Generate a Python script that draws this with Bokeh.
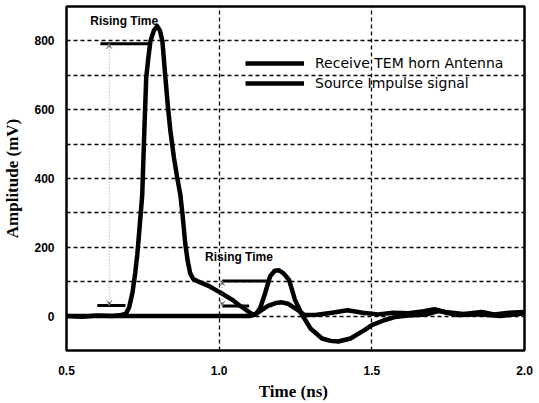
from bokeh.plotting import figure
from bokeh.models import (FixedTicker, Legend, LegendItem, Range1d, Arrow,
                          VeeHead, ColumnDataSource, Label)
from bokeh.embed import file_html
from bokeh.resources import INLINE

# ---------------- data ----------------
src_t = [0.50, 0.55, 0.60, 0.65, 0.68, 0.695, 0.705, 0.716, 0.725, 0.732, 0.740,
         0.748, 0.755, 0.761, 0.768, 0.775, 0.786, 0.797, 0.806, 0.814, 0.824,
         0.832, 0.840, 0.852, 0.863, 0.873, 0.880, 0.889, 0.897, 0.905, 0.915,
         0.930, 0.944, 0.965, 0.987, 1.010, 1.042, 1.065, 1.085, 1.100, 1.114,
         1.135, 1.160, 1.185, 1.206, 1.225, 1.250, 1.280, 1.320, 1.370, 1.420,
         1.470, 1.520, 1.570, 1.620, 1.670, 1.705, 1.740, 1.800, 1.860, 1.900,
         1.950, 2.000]
src_v = [0, -2, 2, 0, 3, 8, 25, 68, 125, 180, 265,
         352, 540, 692, 750, 800, 830, 843, 830, 800, 692,
         610, 540, 460, 400, 352, 295, 210, 160, 125, 108,
         101, 96, 88, 77, 65, 48, 32, 20, 10, 4,
         15, 30, 38, 40, 36, 22, 3, 4, 10, 17,
         10, 5, 10, 8, 14, 20, 12, 6, 12, 5,
         10, 12]

rx_t = [0.50, 0.60, 0.70, 0.80, 0.90, 1.00, 1.10, 1.120, 1.135, 1.150, 1.167,
        1.182, 1.196, 1.210, 1.229, 1.248, 1.270, 1.300, 1.337, 1.365, 1.390,
        1.430, 1.477, 1.500, 1.540, 1.575, 1.620, 1.680, 1.720, 1.780, 1.850,
        1.920, 2.000]
rx_v = [0, 0, 0, 0, 0, 0, 0, 5, 25, 65, 116,
        132, 133, 125, 105, 48, 6, -37, -65, -72, -74,
        -65, -40, -26, -12, -3, 2, 5, 15, 3, 5,
        0, 8]

series_labels = ["Receive TEM horn Antenna", "Source Impulse signal"]

x_ticks = [0.5, 1.0, 1.5, 2.0]
x_tick_labels = ["0.5", "1.0", "1.5", "2.0"]
x_grid = [1.0, 1.5]
y_ticks = [0, 200, 400, 600, 800]
y_grid = [0, 100, 200, 300, 400, 500, 600, 700, 800]

# rising-time markers (level lines and spans)
mark_x0 = [0.611, 0.601, 1.010, 1.010]
mark_x1 = [0.773, 0.693, 1.165, 1.098]
mark_y = [792, 31, 102, 29]
span_x = [0.640, 1.010]
span_y0 = [792, 102]
span_y1 = [31, 29]
note_x = [0.578, 0.954]
note_y = [857, 173]
note_text = ["Rising Time", "Rising Time"]

# ---------------- figure ----------------
p = figure(width=539, height=403, x_range=Range1d(0.5, 2.0),
           y_range=Range1d(-100, 900), output_backend="svg",
           toolbar_location=None, min_border_left=64, min_border_right=15,
           min_border_top=6, min_border_bottom=45)
p.background_fill_color = "white"
p.border_fill_color = "white"
p.outline_line_color = "black"
p.outline_line_width = 2.5

p.xaxis.ticker = FixedTicker(ticks=x_ticks)
p.xaxis.major_label_overrides = {t: s for t, s in zip(x_ticks, x_tick_labels)}
p.yaxis.ticker = FixedTicker(ticks=y_ticks)
p.xgrid.ticker = FixedTicker(ticks=x_grid)
p.ygrid.ticker = FixedTicker(ticks=y_grid)
for g in (p.xgrid, p.ygrid):
    g.grid_line_color = "black"
    g.grid_line_width = 1.3
    g.grid_line_dash = "4 3"
    g.grid_line_alpha = 1.0

for ax in (p.xaxis, p.yaxis):
    ax.axis_line_color = None
    ax.major_tick_line_color = None
    ax.minor_tick_line_color = None
    ax.major_label_text_font = "Liberation Sans"
    ax.major_label_text_font_style = "bold"
    ax.major_label_text_font_size = "12px"
    ax.major_label_text_color = "black"
    ax.axis_label_text_font = "Liberation Serif"
    ax.axis_label_text_font_style = "bold"
    ax.axis_label_text_font_size = "17px"
    ax.axis_label_text_color = "black"

p.xaxis.axis_label = "Time  (ns)"
p.yaxis.axis_label = "Amplitude (mV)"
p.xaxis.major_label_standoff = 9
p.xaxis.axis_label_standoff = 4
p.yaxis.major_label_standoff = 6
p.yaxis.axis_label_standoff = 9

# marker lines
msrc = ColumnDataSource(dict(x0=mark_x0, x1=mark_x1, y=mark_y))
p.segment(x0="x0", y0="y", x1="x1", y1="y", source=msrc,
          line_color="black", line_width=3)
ssrc = ColumnDataSource(dict(x=span_x, y0=span_y0, y1=span_y1))
p.add_layout(Arrow(x_start="x", y_start="y0", x_end="x", y_end="y1",
                   source=ssrc, line_color="#999999", line_width=1,
                   line_dash="1 2",
                   start=VeeHead(size=5, line_color="#999999", line_width=1),
                   end=VeeHead(size=5, line_color="#999999", line_width=1)))

# curves
r_src = p.line(src_t, src_v, line_color="black", line_width=4.5,
               line_join="round")
r_rx = p.line(rx_t, rx_v, line_color="black", line_width=4.5,
              line_join="round")

# annotations
for x, y, t in zip(note_x, note_y, note_text):
    p.add_layout(Label(x=x, y=y, text=t, text_font="Liberation Sans",
                       text_font_style="bold", text_font_size="12px",
                       text_baseline="middle", text_align="left",
                       text_color="black"))

legend = Legend(items=[LegendItem(label=series_labels[0], renderers=[r_rx]),
                       LegendItem(label=series_labels[1], renderers=[r_src])],
                location=(179, 257), glyph_width=59, glyph_height=20,
                label_height=20, label_standoff=11, spacing=0, padding=0,
                margin=0, border_line_alpha=0, background_fill_alpha=0,
                label_text_font="DejaVu Sans", label_text_font_size="14px",
                label_text_color="black")
p.add_layout(legend)

open("out.html", "w").write(file_html(p, INLINE))
